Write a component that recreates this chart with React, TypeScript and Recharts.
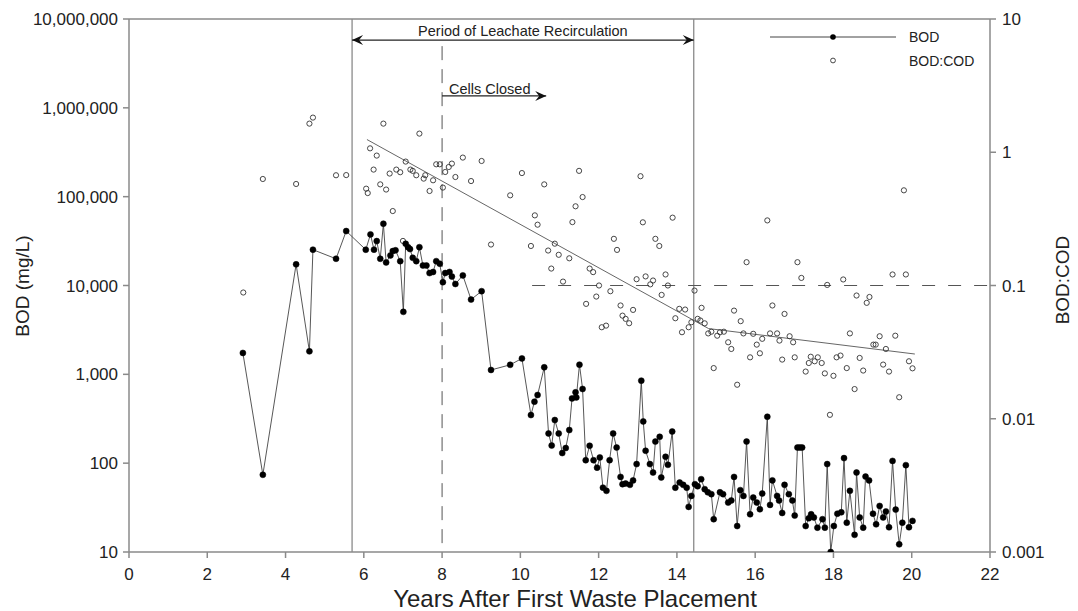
import React from 'react';
import { ComposedChart, Line, Scatter, XAxis, YAxis, ReferenceLine } from 'recharts';

// BOD (mg/L) measurements
const bodYears = [
  2.91, 3.42, 4.27, 4.61, 4.70, 5.29, 5.55, 6.05, 6.17, 6.26, 6.33, 6.42, 6.50, 6.57, 6.68, 6.74, 6.81, 6.93,
  7.01, 7.07, 7.13, 7.18, 7.25, 7.34, 7.42, 7.51, 7.60, 7.68, 7.77, 7.85, 7.94, 8.02, 8.08, 8.19, 8.25, 8.34,
  8.53, 8.74, 9.01, 9.25, 9.74, 10.04, 10.27, 10.36, 10.44, 10.61, 10.72, 10.80, 10.88, 10.98, 11.07, 11.16,
  11.25, 11.32, 11.41, 11.43, 11.51, 11.59, 11.67, 11.77, 11.87, 11.96, 12.03, 12.11, 12.20, 12.28, 12.37,
  12.46, 12.56, 12.61, 12.69, 12.80, 12.88, 12.97, 13.09, 13.14, 13.20, 13.31, 13.39, 13.45, 13.56, 13.60,
  13.71, 13.77, 13.88, 13.96, 14.07, 14.16, 14.25, 14.30, 14.37, 14.46, 14.53, 14.62, 14.71, 14.79, 14.88,
  14.94, 15.10, 15.18, 15.31, 15.39, 15.46, 15.54, 15.62, 15.70, 15.78, 15.87, 15.95, 16.04, 16.12, 16.18,
  16.31, 16.38, 16.44, 16.56, 16.61, 16.69, 16.75, 16.86, 16.95, 17.01, 17.08, 17.14, 17.20, 17.29, 17.37,
  17.43, 17.50, 17.59, 17.72, 17.78, 17.84, 17.93, 18.01, 18.10, 18.20, 18.27, 18.34, 18.42, 18.54, 18.59,
  18.67, 18.76, 18.82, 18.91, 19.01, 19.09, 19.18, 19.27, 19.34, 19.42, 19.51, 19.59, 19.68, 19.76, 19.85,
  19.93, 20.02,
];
const bodValues = [
  1740, 74, 17300, 1815, 25300, 20000, 41000, 25300, 37600, 25300, 31600, 20000, 49600, 18200, 21800, 24400, 24900, 18800,
  5050, 29500, 27000, 25700, 20500, 18800, 27000, 16800, 16800, 13800, 14200, 18800, 17600, 10900, 13800, 14200, 12600, 10400,
  13000, 6950, 8630, 1120, 1280, 1510, 348, 492, 585, 1200, 216, 158, 306, 216, 130, 148,
  236, 536, 627, 550, 1285, 684, 108, 157, 108, 89, 116, 53, 48.8, 108, 216,
  150, 70, 58, 59, 57, 64, 97.6, 849, 295, 138, 97.6, 78.5, 175, 198, 69,
  118, 95.8, 227, 53, 60.5, 57, 53, 32.2, 42.8, 58, 55, 66, 51, 47, 44.8,
  23.4, 47, 44.8, 36, 38, 70, 19.6, 49.7, 42.8, 175, 26.6, 41, 36, 30.3, 45.5,
  333, 33.9, 64, 42.8, 38, 27.5, 57, 44.8, 38, 25.7, 150, 150, 150, 19.6, 24,
  26.6, 24.5, 18.8, 23.4, 18.8, 97.6, 10, 19.6, 27, 28, 114, 21.4, 48.8, 15.6, 78.5,
  24.5, 18.8, 70.6, 64, 27, 20.5, 33, 24.5, 28.5, 19, 106, 30, 12.2, 21.4, 95,
  19, 22.4,
];

// BOD:COD ratio measurements
const ratioYears = [
  2.92, 3.42, 4.27, 4.61, 4.70, 5.29, 5.55, 6.06, 6.10, 6.16, 6.25, 6.33, 6.42, 6.50, 6.57, 6.66, 6.74, 6.83,
  6.93, 7.00, 7.07, 7.19, 7.25, 7.34, 7.42, 7.53, 7.57, 7.68, 7.77, 7.85, 7.94, 8.02, 8.08, 8.17, 8.25, 8.34,
  8.53, 8.74, 9.01, 9.25, 9.74, 10.04, 10.27, 10.37, 10.44, 10.61, 10.71, 10.79, 10.88, 10.98, 11.09, 11.25,
  11.33, 11.41, 11.50, 11.59, 11.68, 11.77, 11.86, 11.94, 12.01, 12.08, 12.19, 12.30, 12.39, 12.47, 12.56,
  12.61, 12.69, 12.78, 12.88, 12.97, 13.07, 13.13, 13.20, 13.32, 13.39, 13.45, 13.55, 13.61, 13.71, 13.77,
  13.89, 13.96, 14.06, 14.13, 14.21, 14.30, 14.37, 14.45, 14.53, 14.60, 14.63, 14.71, 14.80, 14.88, 14.94,
  15.03, 15.10, 15.20, 15.31, 15.39, 15.46, 15.54, 15.63, 15.70, 15.78, 15.87, 15.95, 16.04, 16.12, 16.18,
  16.31, 16.38, 16.44, 16.56, 16.62, 16.69, 16.75, 16.88, 16.97, 17.01, 17.08, 17.18, 17.29, 17.37, 17.42,
  17.52, 17.60, 17.70, 17.78, 17.84, 17.91, 18.00, 18.08, 18.18, 18.25, 18.34, 18.42, 18.54, 18.59, 18.67,
  18.76, 18.85, 18.92, 19.02, 19.08, 19.18, 19.27, 19.34, 19.42, 19.51, 19.58, 19.68, 19.80, 19.85, 19.93,
  20.02,
];
const ratioValues = [
  0.0886, 0.63, 0.578, 1.64, 1.82, 0.672, 0.674, 0.533, 0.494, 1.07, 0.741, 0.944, 0.574, 1.64, 0.525, 0.692, 0.362, 0.741,
  0.708, 0.216, 0.851, 0.741, 0.725, 0.672, 1.38, 0.634, 0.672, 0.512, 0.616, 0.812, 0.812, 0.543, 0.711, 0.775, 0.822, 0.652,
  0.912, 0.608, 0.86, 0.203, 0.475, 0.698, 0.198, 0.336, 0.286, 0.574, 0.183, 0.134, 0.206, 0.17, 0.107, 0.16,
  0.299, 0.393, 0.725, 0.461, 0.0728, 0.134, 0.126, 0.0826, 0.1, 0.0486, 0.05, 0.0906, 0.224, 0.185, 0.0708,
  0.0594, 0.0562, 0.0521, 0.0656, 0.1115, 0.661, 0.298, 0.117, 0.102, 0.109, 0.224, 0.198, 0.085, 0.121, 0.1,
  0.323, 0.0568, 0.0668, 0.0446, 0.066, 0.0486, 0.053, 0.0916, 0.0562, 0.0546, 0.068, 0.052, 0.0437, 0.045, 0.024,
  0.042, 0.0446, 0.045, 0.0375, 0.0334, 0.0648, 0.018, 0.054, 0.0437, 0.1496, 0.0289, 0.0434, 0.036, 0.031, 0.0398,
  0.308, 0.0437, 0.0708, 0.0437, 0.0386, 0.0278, 0.0612, 0.0416, 0.0375, 0.0289, 0.1496, 0.114, 0.0226, 0.0262, 0.0292,
  0.027, 0.0289, 0.0262, 0.0219, 0.101, 0.0107, 0.021, 0.0289, 0.0298, 0.111, 0.024, 0.0437, 0.0167, 0.0841, 0.0286,
  0.023, 0.0741, 0.082, 0.036, 0.036, 0.0416, 0.0255, 0.0334, 0.0226, 0.121, 0.042, 0.0145, 0.518, 0.121, 0.027,
  0.0239,
];

// BOD:COD trend line
const trendYears = [6.08, 14.81, 20.08];
const trendValues = [1.246, 0.0475, 0.0306];

// Axis ticks
const xTicks = [0, 2, 4, 6, 8, 10, 12, 14, 16, 18, 20, 22];
const bodTicks = [10, 100, 1000, 10000, 100000, 1000000, 10000000];
const ratioTicks = [0.001, 0.01, 0.1, 1, 10];

// Events (years)
const recirculationStart = 5.7;
const recirculationEnd = 14.43;
const cellsClosedYear = 8;
const cellsClosedArrowEnd = 10.66;
const ratioThreshold = 0.1;
const thresholdStart = 10.3;

const bodData = bodYears.map((year, i) => ({ year, bod: bodValues[i] }));
const ratioData = ratioYears.map((year, i) => ({ year, ratio: ratioValues[i] }));
const trendData = trendYears.map((year, i) => ({ year, ratio: trendValues[i] }));

const FONT = '"Liberation Sans", Arial, sans-serif';
const AXIS = '#8a8a8a';
const TEXT = '#222';

const OpenCircle = (props: any) => {
  const { cx, cy } = props;
  if (cx == null || cy == null) return null;
  return <circle cx={cx} cy={cy} r={2.6} fill="none" stroke="#333" strokeWidth={0.9} />;
};

const DoubleArrow = (props: any) => {
  const { x1, y1, x2, y2 } = props;
  const y = y1;
  return (
    <g>
      <line x1={x1} y1={y} x2={x2} y2={y2} stroke="#222" strokeWidth={1.2} />
      <path d={`M${x1} ${y} L${x1 + 11} ${y - 5} L${x1 + 7} ${y} L${x1 + 11} ${y + 5} Z`} fill="#111" />
      <path d={`M${x2} ${y} L${x2 - 11} ${y - 5} L${x2 - 7} ${y} L${x2 - 11} ${y + 5} Z`} fill="#111" />
      <text x={(x1 + x2) / 2} y={y - 4} textAnchor="middle" fontSize={14.5} fill={TEXT} fontFamily={FONT}>
        Period of Leachate Recirculation
      </text>
    </g>
  );
};

const SingleArrow = (props: any) => {
  const { x1, y1, x2 } = props;
  const y = y1;
  return (
    <g>
      <line x1={x1} y1={y} x2={x2} y2={y} stroke="#222" strokeWidth={1.2} />
      <path d={`M${x2} ${y} L${x2 - 11} ${y - 5} L${x2 - 7} ${y} L${x2 - 11} ${y + 5} Z`} fill="#111" />
      <text x={x1 + 7} y={y - 2} textAnchor="start" fontSize={14.5} fill={TEXT} fontFamily={FONT}>
        Cells Closed
      </text>
    </g>
  );
};

export default function App() {
  return (
    <div style={{ position: 'absolute', left: 0, top: 0, width: 1078, height: 611, background: '#fff' }}>
      <ComposedChart
        width={1078}
        height={611}
        margin={{ top: 19, right: 0, bottom: 0, left: 0 }}
        style={{ fontFamily: FONT }}
      >
        <XAxis
          xAxisId="x"
          dataKey="year"
          type="number"
          domain={[0, 22]}
          ticks={xTicks}
          allowDataOverflow
          height={59}
          stroke={AXIS}
          strokeWidth={1.5}
          tickSize={6}
          tickMargin={10}
          tick={{ fill: TEXT, fontSize: 17 }}
          tickLine={{ stroke: AXIS }}
        />
        <YAxis
          yAxisId="left"
          xAxisId="x"
          orientation="left"
          scale="log"
          domain={[10, 10000000]}
          ticks={bodTicks}
          allowDataOverflow
          width={129}
          stroke={AXIS}
          strokeWidth={1.5}
          tickSize={6}
          tickMargin={5}
          tick={{ fill: TEXT, fontSize: 17 }}
          tickFormatter={(v: number) => v.toLocaleString('en-US')}
        />
        <YAxis
          yAxisId="right"
          orientation="right"
          dataKey="ratio"
          scale="log"
          domain={[0.001, 10]}
          ticks={ratioTicks}
          allowDataOverflow
          width={88}
          stroke={AXIS}
          strokeWidth={1.5}
          tickSize={6}
          tickMargin={6}
          tick={{ fill: TEXT, fontSize: 17 }}
          tickFormatter={(v: number) => String(v)}
        />

        {/* frame top */}
        <ReferenceLine xAxisId="x" yAxisId="left" y={10000000} stroke={AXIS} strokeWidth={1.5} ifOverflow="visible" />
        {/* period boundaries */}
        <ReferenceLine xAxisId="x" yAxisId="left" x={recirculationStart} stroke={AXIS} strokeWidth={1.3} />
        <ReferenceLine xAxisId="x" yAxisId="left" x={recirculationEnd} stroke={AXIS} strokeWidth={1.3} />
        {/* cells closed dashed */}
        <ReferenceLine
          xAxisId="x"
          yAxisId="left"
          segment={[{ x: cellsClosedYear, y: 4950000 }, { x: cellsClosedYear, y: 10 }]}
          stroke="#555"
          strokeWidth={1}
          strokeDasharray="14 9"
        />
        {/* BOD:COD 0.1 threshold */}
        <ReferenceLine
          xAxisId="x"
          yAxisId="right"
          segment={[{ x: thresholdStart, y: ratioThreshold }, { x: 22, y: ratioThreshold }]}
          stroke="#555"
          strokeWidth={1}
          strokeDasharray="13 13"
        />
        {/* annotations */}
        <ReferenceLine
          xAxisId="x"
          yAxisId="left"
          segment={[{ x: recirculationStart, y: 5790000 }, { x: recirculationEnd, y: 5790000 }]}
          shape={DoubleArrow}
          ifOverflow="visible"
        />
        <ReferenceLine
          xAxisId="x"
          yAxisId="left"
          segment={[{ x: cellsClosedYear, y: 1360000 }, { x: cellsClosedArrowEnd, y: 1360000 }]}
          shape={SingleArrow}
          ifOverflow="visible"
        />

        <Line
          xAxisId="x"
          yAxisId="right"
          data={trendData}
          dataKey="ratio"
          type="linear"
          stroke="#666"
          strokeWidth={1}
          dot={false}
          activeDot={false}
          isAnimationActive={false}
        />
        <Scatter
          xAxisId="x"
          yAxisId="right"
          data={ratioData}
          dataKey="ratio"
          shape={OpenCircle}
          isAnimationActive={false}
        />
        <Line
          xAxisId="x"
          yAxisId="left"
          data={bodData}
          dataKey="bod"
          type="linear"
          stroke="#444"
          strokeWidth={0.9}
          dot={{ r: 3, fill: '#000', stroke: '#000', strokeWidth: 0.5 }}
          activeDot={false}
          isAnimationActive={false}
        />

        {/* axis titles */}
        <text x={575} y={607} textAnchor="middle" fontSize={24} fill={TEXT} fontFamily={FONT}>
          Years After First Waste Placement
        </text>
        <text x={29} y={286} textAnchor="middle" fontSize={19} fill={TEXT} fontFamily={FONT} transform="rotate(-90 29 286)">
          BOD (mg/L)
        </text>
        <text x={1069} y={280} textAnchor="middle" fontSize={19} fill={TEXT} fontFamily={FONT} transform="rotate(-90 1069 280)">
          BOD:COD
        </text>

        {/* legend */}
        <g>
          <line x1={770} y1={37} x2={896} y2={37} stroke="#444" strokeWidth={1} />
          <circle cx={833} cy={37} r={2.8} fill="#000" />
          <text x={909} y={42} fontSize={14} fill={TEXT} fontFamily={FONT}>BOD</text>
          <circle cx={833} cy={60.5} r={2.4} fill="none" stroke="#333" strokeWidth={0.9} />
          <text x={909} y={65.5} fontSize={14} fill={TEXT} fontFamily={FONT}>BOD:COD</text>
        </g>
      </ComposedChart>
    </div>
  );
}
